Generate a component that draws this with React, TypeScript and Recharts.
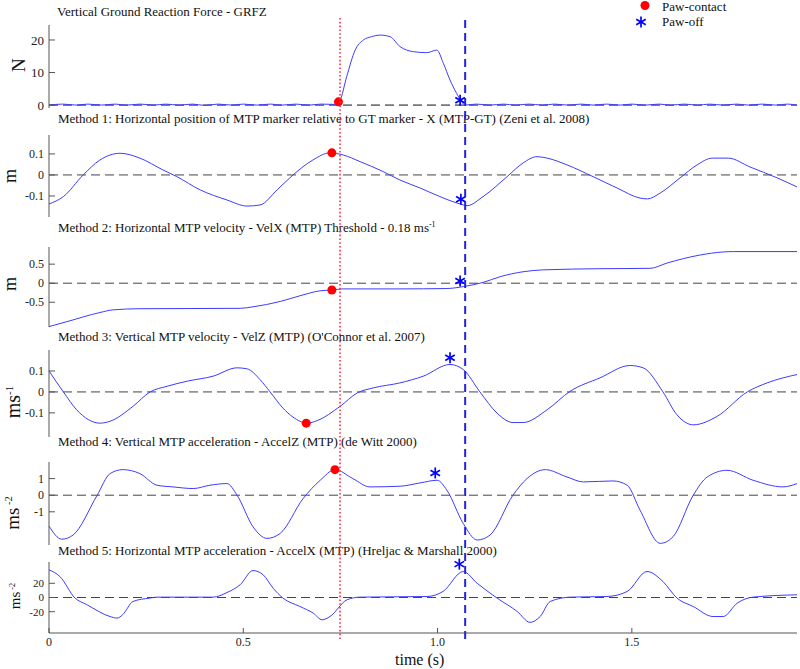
import React from "react";
import { ComposedChart, Line, Scatter, XAxis, YAxis, ReferenceLine } from "recharts";

const FONT = '"Liberation Serif", "Times New Roman", serif';
const LINE = "#3c3cff";
const AXIS = "#555";
const T_END = 1.925;

// event times (s)
const pawContactTime = 0.749;
const pawOffTime = 1.071;

// Vertical ground reaction force (N)
const grfzT = [0, 0.035, 0.07, 0.1, 0.135, 0.17, 0.2, 0.235, 0.27, 0.3, 0.335, 0.37, 0.4, 0.435, 0.47, 0.5, 0.535, 0.57, 0.6, 0.635, 0.67, 0.7, 0.735,
  0.749, 0.766, 0.788, 0.809, 0.83, 0.852, 0.878, 0.903, 0.938, 0.972, 0.998, 1.015, 1.032, 1.049, 1.062,
  1.071, 1.1, 1.135, 1.17, 1.2, 1.235, 1.27, 1.3, 1.335, 1.37, 1.4, 1.435, 1.47, 1.5, 1.535, 1.57, 1.6, 1.635, 1.67, 1.7, 1.735, 1.77, 1.8, 1.835, 1.87, 1.9, 1.925];
const grfzV = [0, 0.3, 0, 0.3, 0, 0.3, 0, 0.3, 0, 0.3, 0, 0.3, -0.1, 0.3, 0, 0.3, 0, 0.3, 0, 0.3, 0, 0.3, 0.2,
  1.5, 8.7, 16.9, 20, 21, 21.5, 21, 18, 16.4, 16.1, 16.9, 12.8, 7.7, 3.6, 1.0,
  0, 0.3, 0, 0.3, 0, 0.3, 0, 0.3, 0, 0.3, 0, 0.3, 0, 0.3, 0, 0.3, 0, 0.3, 0, 0.3, 0, 0.3, 0, 0.3, 0, 0.3, 0];

// Method 1: MTP-GT position (m)
const posXT = [0, 0.037, 0.088, 0.131, 0.183, 0.234, 0.293, 0.329, 0.389, 0.458, 0.51, 0.543, 0.587, 0.628, 0.679, 0.723, 0.757, 0.801, 0.86, 0.903, 0.955,
  1.006, 1.058, 1.076, 1.117, 1.179, 1.22, 1.256, 1.282, 1.333, 1.4, 1.462, 1.521, 1.54, 1.573, 1.624, 1.668, 1.707, 1.748, 1.804, 1.874, 1.925];
const posXV = [-0.138, -0.103, 0, 0.071, 0.103, 0.08, 0.024, -0.008, -0.071, -0.119, -0.148, -0.143, -0.071, 0, 0.071, 0.105, 0.095, 0.063, 0.016, -0.024, -0.062,
  -0.103, -0.138, -0.146, -0.103, -0.008, 0.057, 0.087, 0.08, 0.048, -0.008, -0.062, -0.11, -0.114, -0.086, -0.014, 0.048, 0.08, 0.08, 0.038, -0.014, -0.057];

// Method 2: VelX
const velXT = [0, 0.046, 0.131, 0.165, 0.234, 0.492, 0.525, 0.595, 0.646, 0.698, 0.728, 0.757, 0.903, 1.024, 1.066, 1.117, 1.161, 1.22, 1.272, 1.418, 1.547, 1.591, 1.676, 1.735, 1.761, 1.925];
const velXV = [-1.14, -1.01, -0.77, -0.7, -0.67, -0.66, -0.62, -0.48, -0.33, -0.2, -0.18, -0.15, -0.15, -0.14, -0.09, 0.02, 0.17, 0.3, 0.35, 0.38, 0.39, 0.53, 0.74, 0.82, 0.83, 0.83];

// Method 3: VelZ
const velZT = [0, 0.037, 0.071, 0.131, 0.157, 0.216, 0.26, 0.304, 0.355, 0.422, 0.484, 0.51, 0.543, 0.569, 0.602, 0.628, 0.664, 0.69, 0.749, 0.793, 0.834,
  0.903, 0.963, 1.032, 1.066, 1.109, 1.153, 1.194, 1.22, 1.282, 1.341, 1.418, 1.495, 1.529, 1.58, 1.616, 1.658, 1.719, 1.797, 1.848, 1.925];
const velZV = [0.1, 0, -0.085, -0.149, -0.14, -0.069, 0, 0.027, 0.051, 0.075, 0.115, 0.11, 0.059, 0, -0.077, -0.12, -0.149, -0.137, -0.069, -0.005, 0.019,
  0.043, 0.075, 0.131, 0.107, 0, -0.101, -0.146, -0.146, -0.085, 0.003, 0.067, 0.126, 0.115, 0, -0.109, -0.157, -0.117, 0, 0.043, 0.083];

// Method 4: AccelZ
const accZT = [0, 0.033, 0.062, 0.124, 0.157, 0.19, 0.234, 0.278, 0.319, 0.371, 0.414, 0.458, 0.484, 0.525, 0.561, 0.595, 0.654, 0.698, 0.736, 0.782, 0.826,
  0.903, 0.955, 0.999, 1.024, 1.066, 1.102, 1.135, 1.194, 1.23, 1.277, 1.333, 1.375, 1.452, 1.488, 1.521, 1.573, 1.606, 1.658, 1.694, 1.745, 1.812, 1.889, 1.925];
const accZV = [-1.86, -2.65, -2.4, 0, 1.3, 1.54, 1.3, 0.6, 0.5, 0.4, 0.6, 0.7, 0, -1.9, -2.6, -2.3, -0.2, 0.9, 1.54, 1.0, 0.5,
  0.54, 0.74, 0.9, 0.3, -1.7, -2.7, -2.4, 0, 1.0, 1.54, 1.1, 0.8, 0.86, 0.6, -0.9, -2.9, -2.5, 0, 1.1, 1.5, 0.9, 0.5, 0.7];

// Method 5: AccelX
const accXT = [0, 0.028, 0.067, 0.097, 0.157, 0.175, 0.19, 0.216, 0.26, 0.278, 0.422, 0.458, 0.492, 0.525, 0.551, 0.577, 0.602, 0.646, 0.68, 0.703, 0.723,
  0.767, 0.8, 0.973, 1.014, 1.066, 1.102, 1.153, 1.205, 1.238, 1.264, 1.29, 1.341, 1.436, 1.488, 1.539, 1.58, 1.616, 1.658, 1.709, 1.735, 1.771, 1.812, 1.925];
const accXV = [39, 29.6, -0.8, -10, -26.8, -29, -24, -5.6, -0.8, 0.5, 0.5, 7, 18, 38, 32, 13, -0.8, -12.7, -22, -31.4, -26.8,
  -3.2, 0.5, 1.4, 8.5, 36.6, 20, -0.8, -19.7, -35, -26.8, -5.6, 0.5, 1.4, 8.5, 36.6, 22.5, -0.8, -12.7, -26.8, -26.8, -8, 0.5, 3.8];

// detected events per panel
const contactT = [0.745, 0.728, 0.728, 0.662, 0.736];
const contactV = [1.0, 0.105, -0.18, -0.149, 1.54];
const offT = [1.058, 1.06, 1.058, 1.032, 0.994, 1.056];
const offV = [1.5, -0.116, 0.06, 0.163, 1.34, 47];

const xTicks = [0, 0.5, 1, 1.5];

const zip = (ts: number[], vs: number[]) => ts.map((t, i) => ({ t, v: vs[i] }));

const panels = [
  { data: zip(grfzT, grfzV), top: 25, bottom: 108, domain: [-0.9, 24.6], ticks: [0, 10, 20], fs: 13, zero: "#111" },
  { data: zip(posXT, posXV), top: 135, bottom: 217, domain: [-0.2, 0.19], ticks: [-0.1, 0, 0.1], fs: 12, zero: "#444" },
  { data: zip(velXT, velXV), top: 247, bottom: 327, domain: [-1.15, 0.95], ticks: [-0.5, 0, 0.5], fs: 12, zero: "#444" },
  { data: zip(velZT, velZV), top: 350, bottom: 437, domain: [-0.215, 0.2], ticks: [-0.1, 0, 0.1], fs: 12, zero: "#444" },
  { data: zip(accZT, accZV), top: 462, bottom: 545, domain: [-3, 2], ticks: [-1, 0, 1], fs: 12, zero: "#444" },
  { data: zip(accXT, accXV), top: 562, bottom: 633, domain: [-50, 50], ticks: [-20, 0, 20], fs: 11, zero: "#444" },
];

const titles = [
  { text: "Vertical Ground Reaction Force - GRFZ", base: 16, left: 57 },
  { text: "Method 1: Horizontal position of MTP marker relative to GT marker - X (MTP-GT) (Zeni et al. 2008)", base: 123, left: 58 },
  { text: "Method 2: Horizontal MTP velocity - VelX (MTP) Threshold - 0.18 ms", sup: "-1", base: 232, left: 58 },
  { text: "Method 3: Vertical MTP velocity - VelZ (MTP) (O'Connor et al. 2007)", base: 341, left: 58 },
  { text: "Method 4: Vertical MTP acceleration - AccelZ (MTP) (de Witt 2000)", base: 446, left: 58 },
  { text: "Method 5: Horizontal MTP acceleration - AccelX (MTP) (Hreljac & Marshall 2000)", base: 555, left: 58 },
];

const yLabels = [
  { main: "N", sup: "", cx: 25, cy: 65, fs: 19 },
  { main: "m", sup: "", cx: 16, cy: 176, fs: 18 },
  { main: "m", sup: "", cx: 16, cy: 284, fs: 18 },
  { main: "ms", sup: "-1", cx: 20, cy: 402, fs: 20 },
  { main: "ms", sup: " -2", cx: 19, cy: 513, fs: 19 },
  { main: "ms", sup: " -2", cx: 20, cy: 596, fs: 15 },
];

const RedDot = (props: any) => <circle cx={props.cx} cy={props.cy} r={4.5} fill="#ff0000" />;

const Asterisk = (props: any) => {
  const { cx, cy } = props;
  const r = 5.5;
  const a = r * 0.87;
  const b = r * 0.5;
  return (
    <g stroke="#0000ff" strokeWidth={1.7}>
      <line x1={cx} y1={cy - r} x2={cx} y2={cy + r} />
      <line x1={cx - a} y1={cy - b} x2={cx + a} y2={cy + b} />
      <line x1={cx - a} y1={cy + b} x2={cx + a} y2={cy - b} />
    </g>
  );
};

const YTick = (props: any) => {
  const { x, y, payload, fs } = props;
  return (
    <g>
      <line x1={x + 5} x2={x + 11} y1={y} y2={y} stroke={AXIS} />
      <text x={x} y={y} dy={fs * 0.35} textAnchor="end" fontFamily={FONT} fontSize={fs} fill="#222">
        {String(payload.value)}
      </text>
    </g>
  );
};

const XTick = (props: any) => {
  const { x, y, payload } = props;
  return (
    <g>
      <line x1={x} x2={x} y1={y - 4} y2={y - 9} stroke={AXIS} />
      <text x={x} y={y + 9} textAnchor="middle" fontFamily={FONT} fontSize={12} fill="#222">
        {payload.value === 0 ? "0" : payload.value.toFixed(1)}
      </text>
    </g>
  );
};

function Panel({ p, idx }: { p: any; idx: number }) {
  const last = idx === panels.length - 1;
  const mTop = 10;
  const mBottom = last ? 0 : 10;
  const xH = last ? 30 : 0;
  const h = p.bottom - p.top + mTop + mBottom + xH;
  return (
    <div style={{ position: "absolute", left: 0, top: p.top - mTop }}>
      <ComposedChart width={800} height={h} margin={{ top: mTop, right: 3, bottom: mBottom, left: 0 }}>
        <XAxis
          type="number"
          dataKey="t"
          domain={[0, T_END]}
          hide={!last}
          ticks={xTicks}
          interval={0}
          height={xH || 1}
          tickSize={0}
          tickMargin={4}
          tickLine={false}
          axisLine={{ stroke: AXIS }}
          tick={(tp: any) => <XTick {...tp} />}
        />
        <YAxis
          type="number"
          dataKey="v"
          width={49}
          domain={p.domain}
          ticks={p.ticks}
          interval={0}
          tickSize={0}
          tickMargin={5}
          tickLine={false}
          axisLine={{ stroke: AXIS }}
          tick={(tp: any) => <YTick {...tp} fs={p.fs} />}
        />
        <ReferenceLine y={0} stroke={p.zero} strokeDasharray="9 5" />
        <Line data={p.data} dataKey="v" type="monotone" stroke={LINE} strokeWidth={1} dot={false} isAnimationActive={false} />
        {idx < contactT.length && (
          <Scatter data={[{ t: contactT[idx], v: contactV[idx] }]} dataKey="v" shape={RedDot} isAnimationActive={false} />
        )}
        <Scatter data={[{ t: offT[idx], v: offV[idx] }]} dataKey="v" shape={Asterisk} isAnimationActive={false} />
      </ComposedChart>
    </div>
  );
}

export default function App() {
  const eventData = [
    { t: 0, v: 0 },
    { t: T_END, v: 1 },
  ];
  return (
    <div style={{ position: "absolute", left: 0, top: 0, width: 800, height: 669, overflow: "hidden", background: "#fff" }}>
      {titles.map((tt, i) => (
        <div
          key={i}
          style={{
            position: "absolute",
            left: tt.left,
            top: tt.base - 11,
            fontFamily: FONT,
            fontSize: 13,
            lineHeight: 1,
            whiteSpace: "nowrap",
            color: "#111",
          }}
        >
          {tt.text}
          {tt.sup && <span style={{ fontSize: 8, position: "relative", top: -5 }}>{tt.sup}</span>}
        </div>
      ))}

      {panels.map((p, i) => (
        <Panel key={i} p={p} idx={i} />
      ))}

      <svg width={40} height={669} style={{ position: "absolute", left: 0, top: 0 }}>
        {yLabels.map((l, i) => (
          <text
            key={i}
            x={l.cx}
            y={l.cy}
            transform={`rotate(-90 ${l.cx} ${l.cy})`}
            textAnchor="middle"
            fontFamily={FONT}
            fontSize={l.fs}
            fill="#111"
          >
            {l.main}
            {l.sup && (
              <tspan fontSize={l.fs * 0.55} dy={-l.fs * 0.35}>
                {l.sup}
              </tspan>
            )}
          </text>
        ))}
      </svg>

      <div style={{ position: "absolute", left: 0, top: 0 }}>
        <ComposedChart width={800} height={669} margin={{ top: 17, right: 3, bottom: 30, left: 49 }} data={eventData}>
          <XAxis type="number" dataKey="t" domain={[0, T_END]} hide />
          <YAxis type="number" dataKey="v" domain={[0, 1]} hide />
          <Line dataKey="v" stroke="none" dot={false} isAnimationActive={false} />
          <ReferenceLine x={pawContactTime} stroke="#ff2d4a" strokeWidth={1.6} strokeDasharray="1.6 2.2" />
          <ReferenceLine x={pawOffTime} stroke="#2424dd" strokeWidth={2} strokeDasharray="8 5" />
        </ComposedChart>
      </div>

      <div style={{ position: "absolute", left: 395, top: 652, fontFamily: FONT, fontSize: 16, lineHeight: 1, color: "#111" }}>
        time (s)
      </div>

      <svg width={110} height={32} style={{ position: "absolute", left: 630, top: 0 }}>
        <circle cx={15} cy={5.5} r={4.5} fill="#ff0000" />
        <text x={32} y={11} fontFamily={FONT} fontSize={13} fill="#111">
          Paw-contact
        </text>
        <Asterisk cx={11} cy={22} />
        <text x={32} y={26} fontFamily={FONT} fontSize={13} fill="#111">
          Paw-off
        </text>
      </svg>
    </div>
  );
}
